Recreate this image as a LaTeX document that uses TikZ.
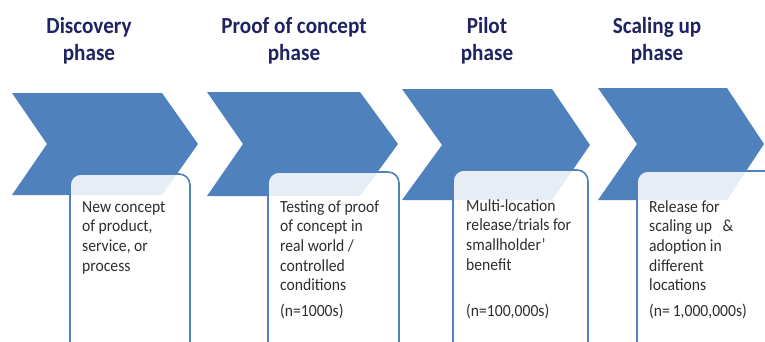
\documentclass[tikz,border=0pt]{standalone}
\usepackage{fontspec}
\setmainfont{Carlito}
\newfontfamily\phasefont[FakeStretch=0.92]{Carlito}
\definecolor{chevblue}{HTML}{4F81BD}
\definecolor{headnavy}{HTML}{1F235F}
\definecolor{bodygray}{HTML}{2E2E2E}
\begin{document}
\begin{tikzpicture}[x=1pt,y=-1pt,
  chevron/.style={fill=chevblue,draw=none},
  infobox/.style={draw=chevblue,line width=1.6pt,fill=white,fill opacity=0.86,rounded corners=11pt},
  heading/.style={inner sep=0pt,anchor=base,text=headnavy,
    font=\phasefont\bfseries\fontsize{23}{27}\selectfont},
  bodytext/.style={inner sep=0pt,anchor=base west,text=bodygray,
    font=\phasefont\fontsize{17}{19.7}\selectfont}]
\useasboundingbox (0,0) rectangle (765,341);

% chevrons: left edge, top, top-right corner, tip, bottom, notch
\draw[chevron] (12,93) -- (162,93) -- (198,144) -- (162,195) -- (12,195) -- (47,144) -- cycle;
\draw[chevron] (207,92) -- (360,92) -- (398,144) -- (360,196) -- (207,196) -- (243,144) -- cycle;
\draw[chevron] (402,89) -- (552,89) -- (590,145) -- (552,200) -- (402,200) -- (442,145) -- cycle;
\draw[chevron] (598,88) -- (727,88) -- (764,144) -- (727,200) -- (598,200) -- (637,144) -- cycle;

% description boxes, running off the bottom edge
\draw[infobox] (70,174) rectangle (190,360);
\draw[infobox] (268,172) rectangle (399,360);
\draw[infobox] (453,170) rectangle (588,360);
\draw[infobox] (637,171) rectangle (790,360);

% phase titles
\node[heading] (h1) at (89,33) {\begin{tabular}[t]{@{}c@{}}Discovery\\phase\end{tabular}};
\node[heading] (h2) at (294,33) {\begin{tabular}[t]{@{}c@{}}Proof of concept\\phase\end{tabular}};
\node[heading] (h3) at (487,33) {\begin{tabular}[t]{@{}c@{}}Pilot\\phase\end{tabular}};
\node[heading] (h4) at (657,33) {\begin{tabular}[t]{@{}c@{}}Scaling up\\phase\end{tabular}};

% box descriptions
\node[bodytext] (t1) at (82,212) {\begin{tabular}[t]{@{}l@{}}New concept\\of product,\\service, or\\process\end{tabular}};
\node[bodytext] (t2) at (280,212) {\begin{tabular}[t]{@{}l@{}}Testing of proof\\of concept in\\real world /\\controlled\\conditions\end{tabular}};
\node[bodytext] (t3) at (466,211) {\begin{tabular}[t]{@{}l@{}}Multi-location\\release/trials for\\smallholder’\\benefit\end{tabular}};
\node[bodytext] (t4) at (649,212) {\begin{tabular}[t]{@{}l@{}}Release for\\scaling up\ \ \ \&\\adoption in\\different\\locations\end{tabular}};

% sample sizes
\node[bodytext] (n2) at (280,316) {(n=1000s)};
\node[bodytext] (n3) at (466,316) {(n=100,000s)};
\node[bodytext] (n4) at (649,316) {(n=\,1,000,000s)};
\end{tikzpicture}
\end{document}
